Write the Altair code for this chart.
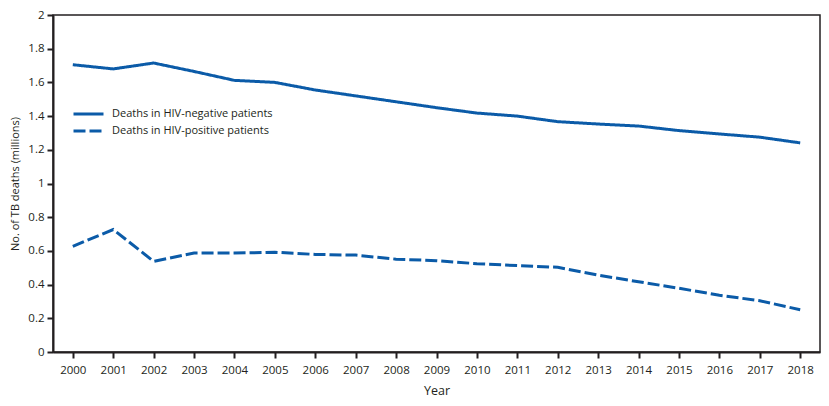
import pandas as pd
import altair as alt

years = list(range(2000, 2019))
hiv_negative = [1.705, 1.68, 1.715, 1.665, 1.612, 1.60, 1.555, 1.52, 1.485, 1.45,
                1.418, 1.40, 1.367, 1.353, 1.341, 1.314, 1.294, 1.275, 1.241]
hiv_positive = [0.627, 0.727, 0.538, 0.587, 0.587, 0.592, 0.579, 0.575, 0.551, 0.542,
                0.524, 0.513, 0.503, 0.456, 0.417, 0.378, 0.337, 0.304, 0.251]
series_names = ['Deaths in HIV-negative patients', 'Deaths in HIV-positive patients']

df = pd.concat([
    pd.DataFrame({'year': years, 'deaths': hiv_negative, 'series': series_names[0]}),
    pd.DataFrame({'year': years, 'deaths': hiv_positive, 'series': series_names[1]}),
])

font = 'Open Sans'
ink = '#231f20'
blue = '#0b5ba8'

chart = alt.Chart(df).mark_line(strokeWidth=3, color=blue).encode(
    alt.X('year:O', title='Year', scale=alt.Scale(type='point', padding=0.49),
          axis=alt.Axis(labelAngle=0, tickSize=6, tickWidth=2, labelPadding=6,
                        titlePadding=9, titleFontSize=12.5)),
    alt.Y('deaths:Q', title='No. of TB deaths (millions)',
          scale=alt.Scale(domain=[0, 2], nice=False),
          axis=alt.Axis(values=[0, 0.2, 0.4, 0.6, 0.8, 1, 1.2, 1.4, 1.6, 1.8, 2],
                        format='~g', tickSize=6, tickWidth=2, labelPadding=3,
                        titlePadding=7, titleFontSize=11)),
    alt.StrokeDash('series:N',
                   scale=alt.Scale(domain=series_names, range=[[1, 0], [12, 4]]),
                   legend=alt.Legend(title=None, orient='none', legendX=19, legendY=91,
                                     symbolType='stroke', symbolSize=900,
                                     symbolStrokeWidth=3, symbolStrokeColor=blue,
                                     clipHeight=16, rowPadding=1, labelOffset=7,
                                     labelFontSize=11, labelFont=font, labelColor=ink,
                                     labelLimit=400)),
).properties(
    width=767,
    height=337,
    autosize=alt.AutoSizeParams(type='none'),
    padding={'left': 45, 'top': 7, 'right': 1, 'bottom': 46},
).configure_view(
    stroke=ink,
    strokeWidth=1.5,
).configure_axis(
    grid=False,
    domainColor=ink,
    domainWidth=2,
    tickColor=ink,
    labelColor=ink,
    titleColor=ink,
    labelFont=font,
    titleFont=font,
    labelFontSize=11.5,
    titleFontWeight='normal',
)

chart.save('out.html', embed_options={'renderer': 'svg', 'actions': False})
